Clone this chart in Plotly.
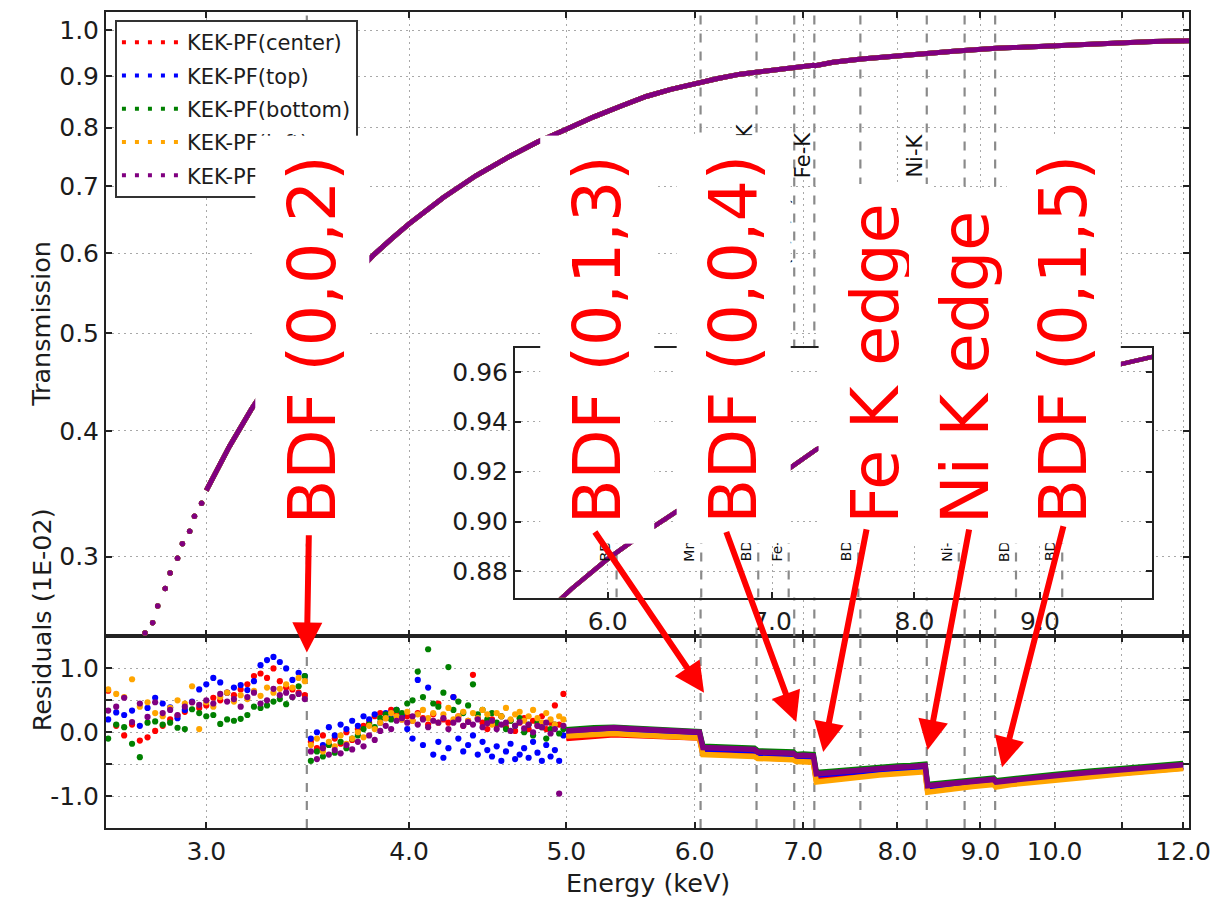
import numpy as np
import plotly.graph_objects as go

# ---------------------------------------------------------------- series
series_names = ["KEK-PF(center)", "KEK-PF(top)", "KEK-PF(bottom)", "KEK-PF(left)", "KEK-PF(right)"]
series_colors = ["#ff0000", "#0000ff", "#008000", "#ffa500", "#800080"]

# transmission: sparse low-energy points, then the dense curve (keV)
trans_energy_sparse = [2.75, 2.78, 2.80, 2.83, 2.85, 2.88, 2.90, 2.93, 2.95, 2.98]
trans_sparse = [0.252, 0.258, 0.268, 0.279, 0.289, 0.299, 0.309, 0.318, 0.329, 0.339]

trans_energy = [3.00, 3.10, 3.20, 3.30, 3.40, 3.50, 3.60, 3.70, 3.80, 3.90,
                4.00, 4.20, 4.40, 4.60, 4.80, 5.00, 5.20, 5.40, 5.60, 5.80,
                6.00, 6.20, 6.40, 6.60, 6.80, 7.00, 7.10, 7.12, 7.30, 7.60,
                8.00, 8.33, 8.35, 8.70, 9.20, 9.70, 10.00, 10.50, 11.00, 11.50,
                12.10]
trans_value = [0.349, 0.386, 0.421, 0.454, 0.486, 0.516, 0.545, 0.571, 0.597, 0.620,
               0.642, 0.682, 0.717, 0.747, 0.774, 0.797, 0.820, 0.840, 0.859, 0.873,
               0.885, 0.895, 0.904, 0.910, 0.915, 0.920, 0.9225, 0.9215, 0.929, 0.936,
               0.943, 0.949, 0.948, 0.953, 0.959, 0.963, 0.966, 0.969, 0.972, 0.974,
               0.976]

# residuals (1E-02), noisy part below 5 keV
noisy_energy = [2.61, 2.64, 2.67, 2.70, 2.73, 2.76, 2.79, 2.82, 2.85, 2.88,
                2.91, 2.94, 2.97, 3.00, 3.03, 3.06, 3.09, 3.12, 3.15, 3.18,
                3.21, 3.24, 3.27, 3.30, 3.33, 3.36, 3.39, 3.42, 3.45,
                3.48, 3.51, 3.54, 3.57, 3.60, 3.63, 3.66, 3.69, 3.72, 3.75,
                3.78, 3.81, 3.84, 3.87, 3.90, 3.93, 3.96, 3.99, 4.02, 4.05,
                4.08, 4.11, 4.14, 4.17, 4.20, 4.23, 4.26, 4.29, 4.32, 4.35,
                4.38, 4.41, 4.44, 4.47, 4.50, 4.53, 4.56, 4.59, 4.62, 4.65,
                4.68, 4.71, 4.74, 4.77, 4.80, 4.83, 4.86, 4.89, 4.92, 4.95,
                4.98]

resid_noisy_center = [0.65, 0.10, -0.05, 0.12, -0.13, -0.08, 0.02, 0.10, 0.20, 0.26,
                      0.32, 0.47, 0.38, 0.42, 0.54, 0.50, 0.62, 0.58, 0.67, 0.75,
                      0.88, 0.92, 0.85, 1.00, 0.80, 0.70, 0.67, 0.62, 0.58,
                      -0.15, -0.25, -0.05, -0.20, -0.10, -0.18, 0.00, -0.12, 0.05, 0.10,
                      0.15, 0.25, 0.30, 0.22, 0.35, 0.28, 0.20, 0.25, 0.18, 0.30,
                      0.22, 0.12, 0.28, 0.45, 0.20, 0.15, 0.55, 0.25, 0.10, 0.18,
                      0.90, 0.22, 0.15, 0.05, 0.20, 0.12, 0.25, 0.08, 0.18, 0.02,
                      0.15, 0.22, 0.05, 0.18, 0.10, 0.25, 0.05, 0.15, 0.42, 0.12,
                      0.60]
resid_noisy_top = [0.20, 0.31, 0.27, 0.34, 0.10, 0.38, 0.54, 0.45, 0.39, 0.22,
                   0.35, 0.48, 0.67, 0.75, 0.85, 0.78, 0.62, 0.70, 0.74, 0.66,
                   0.80, 1.05, 1.13, 1.18, 1.10, 1.00, 0.82, 0.93, 0.88,
                   -0.10, 0.00, -0.20, 0.08, -0.05, 0.12, 0.05, 0.18, 0.10, 0.25,
                   0.20, 0.28, 0.15, 0.30, 0.22, 0.35, 0.25, 0.05, -0.10, 0.82,
                   -0.20, 0.70, -0.35, -0.15, -0.40, -0.25, 0.55, -0.10, -0.30, -0.20,
                   -0.05, -0.35, -0.15, -0.28, -0.38, -0.22, -0.45, -0.30, -0.18, -0.42,
                   -0.35, -0.25, -0.40, -0.15, -0.32, -0.45, -0.20, -0.38, -0.28, -0.45,
                   -0.05]
resid_noisy_bottom = [-0.10, 0.12, 0.08, -0.18, -0.39, 0.15, 0.17, 0.12, 0.15, 0.07,
                      0.05, 0.36, 0.30, 0.25, 0.27, 0.13, 0.20, 0.18, 0.21, 0.27,
                      0.40, 0.38, 0.42, 0.48, 0.52, 0.44, 0.55, 0.72, 0.88,
                      -0.45, -0.30, -0.38, -0.20, -0.32, -0.15, -0.25, -0.10, -0.05, 0.05,
                      0.12, 0.08, 0.22, 0.28, 0.20, 0.35, 0.30, 0.45, 0.50, 0.95,
                      0.55, 1.30, 0.45, 0.40, 0.62, 1.02, 0.35, 0.48, 0.30, 0.42,
                      0.75, 0.28, 0.35, 0.20, 0.30, 0.15, 0.25, 0.05, 0.18, 0.10,
                      0.22, 0.00, 0.12, -0.05, 0.15, 0.08, -0.10, 0.05, 0.12, -0.02,
                      0.05]
resid_noisy_left = [0.67, 0.60, 0.55, 0.83, 0.40, 0.47, 0.30, 0.25, 0.38, 0.50,
                    0.45, 0.72, 0.05, 0.47, 0.40, 0.55, 0.62, 0.48, 0.58, 0.52,
                    0.65, 0.57, 0.70, 0.62, 0.68, 0.75, 0.70, 0.85, 0.80,
                    -0.20, -0.10, -0.30, -0.15, -0.22, -0.05, -0.18, -0.10, 0.00, -0.08,
                    0.10, 0.05, 0.15, 0.22, 0.30, 0.25, 0.20, 0.32, 0.18, 0.28,
                    0.35, 0.22, 0.30, 0.15, 0.28, 0.38, 0.20, 0.25, 0.32, 0.18,
                    0.30, 0.22, 0.35, 0.28, 0.12, 0.30, 0.25, 0.38, 0.20, 0.28,
                    0.32, 0.18, 0.25, 0.35, 0.22, 0.15, 0.30, 0.20, 0.12, 0.25,
                    0.20]
resid_noisy_right = [0.34, 0.40, 0.54, 0.16, 0.45, 0.24, 0.47, 0.30, 0.35, 0.27,
                     0.40, 0.47, 0.43, 0.50, 0.45, 0.60, 0.48, 0.52, 0.40, 0.55,
                     0.62, 0.45, 0.50, 0.68, 0.58, 0.62, 0.55, 0.60, 0.52,
                     -0.30, -0.42, -0.25, -0.35, -0.28, -0.33, -0.20, -0.27, -0.15, -0.22,
                     -0.05, -0.12, 0.02, 0.10, 0.05, 0.18, 0.22, 0.15, 0.25, 0.12,
                     0.20, 0.08, 0.18, 0.15, 0.22, 0.05, 0.15, 0.20, 0.10, 0.16,
                     0.12, 0.20, 0.08, 0.14, 0.18, 0.05, 0.12, 0.15, 0.02, 0.10,
                     0.16, 0.06, 0.12, 0.00, 0.10, 0.08, 0.15, -0.02, 0.05, -0.96,
                     0.10]

# residuals (1E-02), smooth part above 5 keV
smooth_energy = [5.00, 5.10, 5.20, 5.35, 5.50, 5.70, 5.90, 6.04, 6.07, 6.20,
                 6.35, 6.53, 6.56, 6.70, 6.90, 6.93, 7.00, 7.10, 7.13, 7.30,
                 7.45, 7.58, 7.61, 7.80, 8.00, 8.15, 8.32, 8.35, 8.50, 8.70,
                 8.90, 9.17, 9.20, 9.40, 9.70, 10.00, 10.50, 11.00, 11.50, 12.00]
resid_smooth_center = [-0.10, -0.08, -0.06, -0.04, -0.05, -0.07, -0.08, -0.09, -0.33, -0.34,
                       -0.35, -0.36, -0.40, -0.41, -0.42, -0.45, -0.45, -0.46, -0.74, -0.72,
                       -0.70, -0.68, -0.66, -0.65, -0.63, -0.62, -0.60, -0.91, -0.89, -0.86,
                       -0.83, -0.80, -0.84, -0.80, -0.76, -0.73, -0.68, -0.63, -0.60, -0.56]
resid_smooth_top = [0.00, 0.02, 0.03, 0.05, 0.03, 0.01, -0.01, -0.02, -0.26, -0.27,
                    -0.28, -0.29, -0.33, -0.34, -0.35, -0.39, -0.38, -0.39, -0.67, -0.65,
                    -0.63, -0.62, -0.60, -0.59, -0.57, -0.56, -0.54, -0.86, -0.84, -0.81,
                    -0.79, -0.76, -0.80, -0.77, -0.73, -0.70, -0.65, -0.60, -0.57, -0.53]
resid_smooth_bottom = [0.04, 0.06, 0.07, 0.08, 0.06, 0.04, 0.02, 0.01, -0.22, -0.23,
                       -0.24, -0.25, -0.29, -0.30, -0.31, -0.35, -0.34, -0.35, -0.63, -0.61,
                       -0.59, -0.58, -0.56, -0.55, -0.53, -0.52, -0.50, -0.82, -0.80, -0.77,
                       -0.75, -0.72, -0.76, -0.73, -0.69, -0.66, -0.61, -0.56, -0.53, -0.49]
resid_smooth_left = [-0.06, -0.05, -0.04, -0.02, -0.04, -0.06, -0.08, -0.09, -0.35, -0.36,
                     -0.37, -0.38, -0.41, -0.42, -0.43, -0.46, -0.46, -0.47, -0.78, -0.75,
                     -0.72, -0.70, -0.68, -0.67, -0.65, -0.64, -0.62, -0.94, -0.91, -0.88,
                     -0.85, -0.82, -0.86, -0.82, -0.78, -0.75, -0.70, -0.65, -0.61, -0.57]
resid_smooth_right = [0.02, 0.04, 0.05, 0.07, 0.05, 0.03, 0.01, 0.00, -0.24, -0.25,
                      -0.26, -0.27, -0.31, -0.32, -0.33, -0.37, -0.36, -0.37, -0.65, -0.63,
                      -0.61, -0.60, -0.58, -0.57, -0.55, -0.54, -0.52, -0.84, -0.82, -0.79,
                      -0.77, -0.74, -0.78, -0.75, -0.71, -0.68, -0.63, -0.58, -0.55, -0.51]

resid_noisy = [resid_noisy_center, resid_noisy_top, resid_noisy_bottom, resid_noisy_left, resid_noisy_right]
resid_smooth = [resid_smooth_center, resid_smooth_top, resid_smooth_bottom, resid_smooth_left, resid_smooth_right]
for arr in resid_noisy:
    assert len(arr) == len(noisy_energy)
for arr in resid_smooth:
    assert len(arr) == len(smooth_energy)

# absorption edges and Bragg diffraction features (keV)
feature_energy = [3.46, 6.05, 6.55, 6.91, 7.11, 7.59, 8.34, 8.80, 9.19]
feature_label = ["BDF(0,0,2)", "BDF(0,1,3)", "Mn-K", "BDF(0,0,4)", "Fe-K",
                 "BDF(0,1,4)", "Ni-K", "BDF(1,1,3)", "BDF(0,1,5)"]

# large call-outs with arrows pointing at the residual steps
callout_text = ["BDF (0,0,2)", "BDF (0,1,3)", "BDF (0,0,4)", "Fe K edge", "Ni K edge", "BDF (0,1,5)"]
callout_box_x = [0.1902, 0.4533, 0.5793, 0.7108, 0.7938, 0.8841]
callout_tip_energy = [3.46, 6.08, 6.93, 7.20, 8.35, 9.28]
callout_tip_resid = [1.25, 0.62, 0.16, -0.31, -0.28, -0.55]
callout_tail_energy = [3.47, 5.20, 6.27, 7.66, 8.86, 10.13]
callout_tail_resid = [3.11, 3.16, 3.16, 3.20, 3.20, 3.25]

# axis ticks
x_ticks = [3, 4, 5, 6, 7, 8, 9, 10, 11, 12]
x_ticktext = ["3.0", "4.0", "5.0", "6.0", "7.0", "8.0", "9.0", "10.0", "", "12.0"]
t_ticks = [0.3, 0.4, 0.5, 0.6, 0.7, 0.8, 0.9, 1.0]
r_ticks = [-1.0, -0.5, 0.0, 0.5, 1.0]
r_ticktext = ["-1.0", "", "0.0", "", "1.0"]
inset_x_ticks = [6, 7, 8, 9]
inset_y_ticks = [0.88, 0.90, 0.92, 0.94, 0.96]

# ---------------------------------------------------------------- ranges
X_RANGE = [2.602, 12.10]
T_RANGE = [0.25, 1.042]
R_RANGE = [-1.5, 1.5]
IX_RANGE = [5.5, 10.0]
IY_RANGE = [0.8695, 0.9695]

FONT = "DejaVu Sans"
INK = "#1c1c1c"
GRID = dict(showgrid=True, gridcolor="#a8a8a8", gridwidth=1.3, griddash="2px,4px")
FRAME = dict(showline=True, linecolor="#222222", linewidth=2, mirror="ticks",
             ticks="inside", ticklen=6, tickwidth=1.5, tickcolor="#222222",
             zeroline=False)

fig = go.Figure()

# legend entries (three-dot samples)
for name, color in zip(series_names, series_colors):
    fig.add_trace(go.Scatter(x=[None], y=[None], mode="lines", name=name,
                             legendgroup=name,
                             line=dict(color=color, width=4, dash="4px,9px"),
                             xaxis="x2", yaxis="y2", showlegend=True))


def vlines(energies, lo, hi):
    xs, ys = [], []
    for e in energies:
        xs += [e, e, None]
        ys += [lo, hi, None]
    return xs, ys


DASH = dict(color="#8a8a8a", width=2.2, dash="9px,9px")
xs, ys = vlines(feature_energy, *T_RANGE)
fig.add_trace(go.Scatter(x=xs, y=ys, mode="lines", line=DASH, xaxis="x2", yaxis="y2",
                         showlegend=False, hoverinfo="skip"))
xs, ys = vlines(feature_energy, *R_RANGE)
fig.add_trace(go.Scatter(x=xs, y=ys, mode="lines", line=DASH, xaxis="x", yaxis="y",
                         showlegend=False, hoverinfo="skip"))
xs, ys = vlines([e for e in feature_energy if IX_RANGE[0] < e < IX_RANGE[1]], *IY_RANGE)
fig.add_trace(go.Scatter(x=xs, y=ys, mode="lines", line=DASH, xaxis="x3", yaxis="y3",
                         showlegend=False, hoverinfo="skip"))

# transmission panel and inset
for name, color in zip(series_names, series_colors):
    fig.add_trace(go.Scatter(x=trans_energy_sparse, y=trans_sparse, mode="markers",
                             marker=dict(color=color, size=5.5), xaxis="x2", yaxis="y2",
                             showlegend=False, name=name))
    fig.add_trace(go.Scatter(x=trans_energy, y=trans_value, mode="lines",
                             line=dict(color=color, width=5), xaxis="x2", yaxis="y2",
                             showlegend=False, name=name))
    fig.add_trace(go.Scatter(x=trans_energy, y=trans_value, mode="lines",
                             line=dict(color=color, width=4.5), xaxis="x3", yaxis="y3",
                             showlegend=False, name=name))

# residual panel
for name, color, rn, rs in zip(series_names, series_colors, resid_noisy, resid_smooth):
    fig.add_trace(go.Scatter(x=noisy_energy, y=rn, mode="markers",
                             marker=dict(color=color, size=6.2), xaxis="x", yaxis="y",
                             showlegend=False, name=name))
    fig.add_trace(go.Scatter(x=smooth_energy, y=rs, mode="lines",
                             line=dict(color=color, width=5.5), xaxis="x", yaxis="y",
                             showlegend=False, name=name))

# ---------------------------------------------------------------- layout
PLOT_TOP, PLOT_BOTTOM, SPLIT = 10, 828, 636
H = PLOT_BOTTOM - PLOT_TOP
split_frac = (PLOT_BOTTOM - SPLIT) / H
tick_font = dict(family=FONT, size=25, color=INK)

fig.update_layout(
    width=1221, height=900,
    margin=dict(l=106, r=24, t=PLOT_TOP, b=900 - PLOT_BOTTOM, pad=0),
    paper_bgcolor="white", plot_bgcolor="white",
    font=dict(family=FONT, color=INK),
    xaxis=dict(domain=[0, 1], anchor="y", type="log",
               range=[np.log10(X_RANGE[0]), np.log10(X_RANGE[1])],
               tickmode="array", tickvals=x_ticks, ticktext=x_ticktext,
               tickfont=tick_font, **GRID, **FRAME),
    yaxis=dict(domain=[0, split_frac], anchor="x", range=R_RANGE,
               tickmode="array", tickvals=r_ticks, ticktext=r_ticktext,
               tickfont=tick_font, **GRID, **FRAME),
    xaxis2=dict(domain=[0, 1], anchor="y2", type="log",
                range=[np.log10(X_RANGE[0]), np.log10(X_RANGE[1])],
                tickmode="array", tickvals=x_ticks, showticklabels=False,
                **GRID, **FRAME),
    yaxis2=dict(domain=[split_frac, 1], anchor="x2", type="log",
                range=[np.log10(T_RANGE[0]), np.log10(T_RANGE[1])],
                tickmode="array", tickvals=t_ticks,
                ticktext=["%.1f" % v for v in t_ticks],
                tickfont=tick_font, **GRID, **FRAME),
    xaxis3=dict(domain=[(518 - 106) / 1091, (1160 - 106) / 1091], anchor="y3", type="log",
                range=[np.log10(IX_RANGE[0]), np.log10(IX_RANGE[1])],
                tickmode="array", tickvals=inset_x_ticks,
                ticktext=["%.1f" % v for v in inset_x_ticks],
                tickfont=tick_font, **GRID, **FRAME),
    yaxis3=dict(domain=[(PLOT_BOTTOM - 597) / H, (PLOT_BOTTOM - 347) / H], anchor="x3",
                range=IY_RANGE, tickmode="array", tickvals=inset_y_ticks,
                ticktext=["%.2f" % v for v in inset_y_ticks],
                tickfont=tick_font, **GRID, **FRAME),
    legend=dict(x=(115 - 106) / 1091, y=1 - (18 - PLOT_TOP) / H,
                xanchor="left", yanchor="top",
                bgcolor="white", bordercolor="#333333", borderwidth=2,
                font=dict(family=FONT, size=21, color=INK),
                tracegroupgap=3, itemwidth=60),
    showlegend=True,
)

annotations = []

# axis titles
title_font = dict(family=FONT, size=25.5, color=INK)
annotations.append(dict(text="Transmission", xref="paper", yref="paper",
                        x=(24 - 106) / 1091, y=(PLOT_BOTTOM - 323) / H, textangle=-90,
                        showarrow=False, font=title_font))
annotations.append(dict(text="Residuals (1E-02)", xref="paper", yref="paper",
                        x=(24 - 106) / 1091, y=(PLOT_BOTTOM - 733) / H, textangle=-90,
                        showarrow=False, font=title_font))
annotations.append(dict(text="Energy (keV)", xref="paper", yref="paper",
                        x=0.5, y=(PLOT_BOTTOM - 883) / H, yanchor="middle",
                        showarrow=False, font=title_font))

# small labels next to the feature lines
for e, lab in zip(feature_energy, feature_label):
    is_edge = lab.endswith("-K")
    annotations.append(dict(text=lab, xref="x2", yref="y2", x=np.log10(e),
                            y=np.log10(0.710 if is_edge else 0.686),
                            yanchor="bottom" if is_edge else "top",
                            xshift=-12, textangle=-90, showarrow=False,
                            font=dict(family=FONT, size=21, color="#111111")))
    if IX_RANGE[0] < e < IX_RANGE[1]:
        annotations.append(dict(text=lab, xref="x3", yref="y3", x=np.log10(e), y=0.8832,
                                yanchor="bottom", xshift=-12, textangle=-90,
                                showarrow=False,
                                font=dict(family=FONT, size=14, color="#111111")))

# large call-out boxes
for txt, bx in zip(callout_text, callout_box_x):
    annotations.append(dict(text=txt, xref="paper", yref="paper", x=bx,
                            y=(PLOT_BOTTOM - 543) / H, xanchor="center", yanchor="bottom",
                            textangle=-90, showarrow=False, bgcolor="white", borderpad=19,
                            font=dict(family=FONT, size=65, color="#ff0000")))

# arrows
for te, tr, ae, ar in zip(callout_tip_energy, callout_tip_resid,
                          callout_tail_energy, callout_tail_resid):
    annotations.append(dict(text="", xref="x", yref="y", x=np.log10(te), y=tr,
                            axref="x", ayref="y", ax=np.log10(ae), ay=ar,
                            showarrow=True, arrowhead=2, arrowsize=1.0, arrowwidth=6,
                            arrowcolor="#ff0000", standoff=0, startstandoff=0))

fig.update_layout(annotations=annotations)

fig.write_html("out.html")
